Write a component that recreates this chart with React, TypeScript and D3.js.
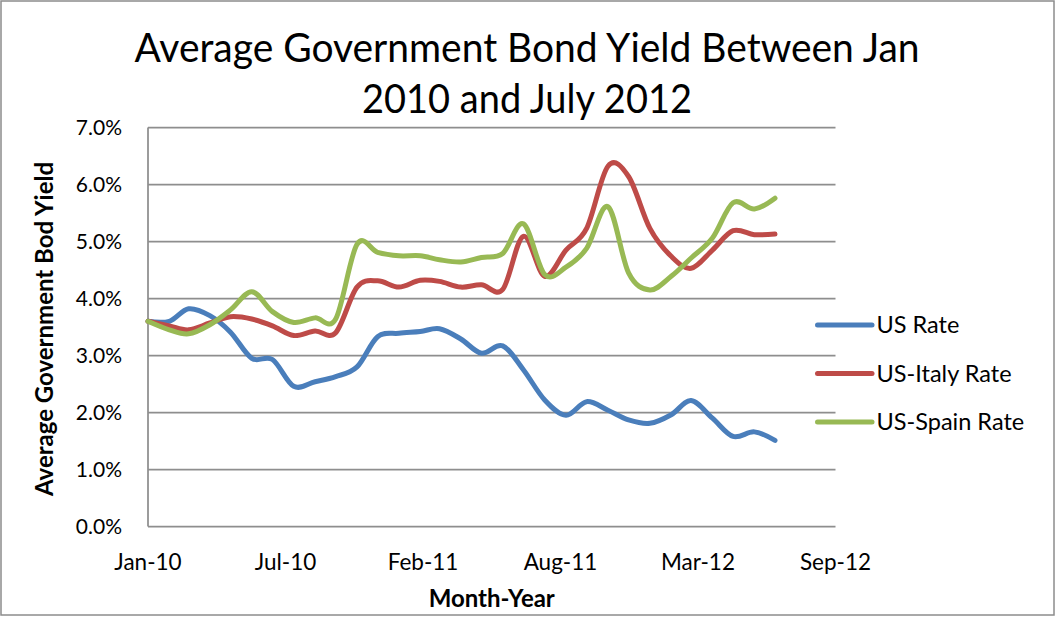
import React from "react";
import * as d3 from "d3";

const monthDates = [
  "2010-01-01", "2010-02-01", "2010-03-01", "2010-04-01", "2010-05-01", "2010-06-01",
  "2010-07-01", "2010-08-01", "2010-09-01", "2010-10-01", "2010-11-01", "2010-12-01",
  "2011-01-01", "2011-02-01", "2011-03-01", "2011-04-01", "2011-05-01", "2011-06-01",
  "2011-07-01", "2011-08-01", "2011-09-01", "2011-10-01", "2011-11-01", "2011-12-01",
  "2012-01-01", "2012-02-01", "2012-03-01", "2012-04-01", "2012-05-01", "2012-06-01",
  "2012-07-01",
];

const usRate = [
  3.60, 3.60, 3.82, 3.70, 3.41, 2.95, 2.93, 2.46, 2.54, 2.63, 2.80, 3.33,
  3.39, 3.42, 3.47, 3.29, 3.04, 3.17, 2.75, 2.22, 1.95, 2.19, 2.04, 1.87,
  1.81, 1.96, 2.21, 1.90, 1.58, 1.66, 1.51,
];

const italyRate = [
  3.60, 3.52, 3.45, 3.57, 3.68, 3.64, 3.52, 3.35, 3.43, 3.40, 4.20, 4.31,
  4.20, 4.32, 4.30, 4.20, 4.24, 4.16, 5.09, 4.39, 4.85, 5.23, 6.32, 6.14,
  5.23, 4.74, 4.53, 4.85, 5.19, 5.12, 5.13,
];

const spainRate = [
  3.60, 3.45, 3.38, 3.54, 3.80, 4.12, 3.77, 3.58, 3.66, 3.64, 4.95, 4.81,
  4.75, 4.75, 4.68, 4.64, 4.72, 4.79, 5.31, 4.42, 4.55, 4.88, 5.61, 4.45,
  4.15, 4.39, 4.71, 5.06, 5.68, 5.57, 5.76,
];

const seriesNames = ["US Rate", "US-Italy Rate", "US-Spain Rate"];
const seriesColors = ["#4A7EBB", "#BE4B48", "#98B954"];

const xDomain = ["2010-01-01", "2012-09-27"];
const xTickDates = ["2010-01-01", "2010-07-20", "2011-02-05", "2011-08-24", "2012-03-11", "2012-09-27"];
const xTickLabels = ["Jan-10", "Jul-10", "Feb-11", "Aug-11", "Mar-12", "Sep-12"];
const yTicks = [0, 1, 2, 3, 4, 5, 6, 7];

const titleLines = ["Average Government Bond Yield Between Jan", "2010 and July 2012"];
const xAxisTitle = "Month-Year";
const yAxisTitle = "Average Government Bod Yield";

export default function App() {
  const W = 1056;
  const H = 617;
  const left = 148;
  const right = 835.5;
  const top = 127.5;
  const bottom = 526.5;
  const font = "Lato, 'Open Sans', sans-serif";

  const parse = (s: string) => new Date(s + "T00:00:00Z");
  const x = d3.scaleUtc().domain(xDomain.map(parse)).range([left, right]);
  const y = d3.scaleLinear().domain([0, 7]).range([bottom, top]);
  const dates = monthDates.map(parse);
  const allSeries = [usRate, italyRate, spainRate];

  const line = d3
    .line<number>()
    .x((_, i) => x(dates[i]))
    .y((d) => y(d))
    .curve(d3.curveCardinal.tension(0));

  const gridColor = "#8e8e8e";
  const legendX = 817.5;
  const legendY = [325, 373.5, 422];

  return (
    <svg
      width={W}
      height={H}
      style={{ position: "absolute", left: 0, top: 0, background: "#fff" }}
    >
      <rect x={1} y={1} width={1053} height={614} fill="#fff" stroke="#8c8c8c" strokeWidth={1.5} />

      {titleLines.map((t, i) => (
        <text
          key={t}
          x={527}
          y={62 + i * 51}
          textAnchor="middle"
          fontFamily={font}
          fontSize={40}
          fill="#000"
          textLength={i === 0 ? 785 : 330}
          lengthAdjust="spacingAndGlyphs"
        >
          {t}
        </text>
      ))}

      {yTicks.map((t) => (
        <g key={t}>
          {t > 0 && (
            <line x1={left} x2={right} y1={y(t)} y2={y(t)} stroke={gridColor} strokeWidth={1.75} />
          )}
          <text
            x={122}
            y={y(t)}
            dy="0.36em"
            textAnchor="end"
            fontFamily={font}
            fontSize={21}
            fill="#000"
          >
            {t.toFixed(1) + "%"}
          </text>
        </g>
      ))}

      <line x1={left} x2={left} y1={top} y2={bottom} stroke={gridColor} strokeWidth={1.75} />
      <line x1={left} x2={right} y1={bottom} y2={bottom} stroke={gridColor} strokeWidth={1.75} />

      {xTickDates.map((d, i) => (
        <text
          key={d}
          x={x(parse(d))}
          y={570}
          textAnchor="middle"
          fontFamily={font}
          fontSize={22.5}
          fill="#000"
        >
          {xTickLabels[i]}
        </text>
      ))}

      <text
        x={(left + right) / 2}
        y={607}
        textAnchor="middle"
        fontFamily={font}
        fontWeight="bold"
        fontSize={24}
        fill="#000"
      >
        {xAxisTitle}
      </text>
      <text
        transform={`translate(53, ${(top + bottom) / 2 + 2}) rotate(-90)`}
        textAnchor="middle"
        fontFamily={font}
        fontWeight="bold"
        fontSize={24}
        fill="#000"
      >
        {yAxisTitle}
      </text>

      {allSeries.map((s, i) => (
        <path
          key={seriesNames[i]}
          d={line(s) || ""}
          fill="none"
          stroke={seriesColors[i]}
          strokeWidth={5}
          strokeLinecap="round"
          strokeLinejoin="round"
        />
      ))}

      {seriesNames.map((n, i) => (
        <g key={n}>
          <line
            x1={legendX}
            x2={legendX + 54.5}
            y1={legendY[i]}
            y2={legendY[i]}
            stroke={seriesColors[i]}
            strokeWidth={5}
            strokeLinecap="round"
          />
          <text
            x={876.5}
            y={legendY[i]}
            dy="0.36em"
            fontFamily={font}
            fontSize={23.5}
            fill="#000"
          >
            {n}
          </text>
        </g>
      ))}
    </svg>
  );
}
